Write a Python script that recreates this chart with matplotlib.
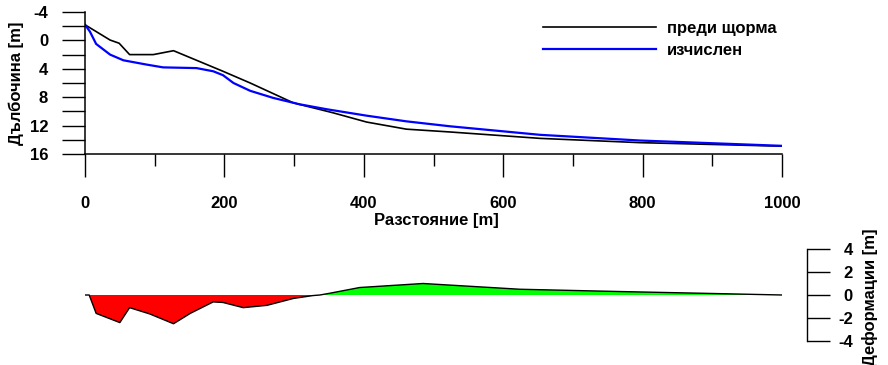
import matplotlib

matplotlib.use("Agg")
import matplotlib.pyplot as plt
import numpy as np
from matplotlib.ticker import MultipleLocator

# Профил на дъното преди щормa: разстояние [m] -> дълбочина [m]
DIST_BEFORE = [0, 36, 49, 64, 98, 127, 198, 237, 299, 356, 404, 461, 524, 653, 796, 1000]
DEPTH_BEFORE = [-2.2, -0.05, 0.4, 2.0, 2.0, 1.45, 4.35, 6.0, 8.8, 10.2, 11.5, 12.5, 12.9,
                13.8, 14.4, 14.9]

# Изчислен профил след щорма
DIST_CALC = [0, 7, 16, 36, 55, 88, 112, 160, 184, 198, 213, 237, 270, 308, 347, 404, 461,
             524, 653, 796, 1000]
DEPTH_CALC = [-2.2, -1.25, 0.5, 2.0, 2.8, 3.4, 3.8, 3.9, 4.35, 4.9, 6.0, 7.1, 8.1, 9.0,
              9.7, 10.6, 11.4, 12.1, 13.3, 14.1, 14.85]

# Деформации на дъното (+ отлагане, - ерозия)
DIST_DEF = [0, 6, 16, 50, 64, 93, 127, 151, 184, 198, 227, 261, 299, 327, 337, 351, 394,
            485, 624, 768, 886, 1000]
DEFORM = [0, 0, -1.6, -2.4, -1.1, -1.65, -2.5, -1.6, -0.6, -0.65, -1.1, -0.9, -0.3, -0.05,
          0, 0.15, 0.65, 1.0, 0.5, 0.3, 0.15, 0]

DEPTH_TICKS = [-4, 0, 4, 8, 12, 16]
DIST_TICKS = [0, 200, 400, 600, 800, 1000]
DEF_TICKS = [-4, -2, 0, 2, 4]

plt.rcParams["font.family"] = ["Liberation Sans", "DejaVu Sans"]
plt.rcParams["font.weight"] = "bold"
plt.rcParams["font.size"] = 12
plt.rcParams["axes.unicode_minus"] = False

W, H = 888, 365
fig = plt.figure(figsize=(W / 100, H / 100), dpi=100)


def box(x0, y0, x1, y1):
    """Правоъгълник в пиксели (от горния ляв ъгъл) -> координати на фигурата."""
    return [x0 / W, 1 - y1 / H, (x1 - x0) / W, (y1 - y0) / H]


# ── горна графика: профили ─────────────────────────────────────────
ax = fig.add_axes(box(85, 12, 782, 154))
ax.plot(DIST_BEFORE, DEPTH_BEFORE, color="black", lw=1.2, label="преди щорма")
ax.plot(DIST_CALC, DEPTH_CALC, color="#0000ff", lw=1.6, label="изчислен")
ax.set_xlim(0, 1000)
ax.set_ylim(16, -4)
ax.spines["top"].set_visible(False)
ax.spines["right"].set_visible(False)
for s in ("left", "bottom"):
    ax.spines[s].set_linewidth(1.1)
ax.set_yticks(DEPTH_TICKS)
ax.yaxis.set_minor_locator(MultipleLocator(2))
ax.set_xticks(DIST_TICKS)
ax.xaxis.set_minor_locator(MultipleLocator(100))
ax.tick_params(axis="y", which="both", direction="out", length=16.5, width=1, pad=10)
ax.tick_params(axis="x", which="major", direction="out", length=16.5, width=1, pad=14)
ax.tick_params(axis="x", which="minor", direction="out", length=8.5, width=1)

fig.text(16 / W, 1 - 83 / H, "Дълбочина [m]", rotation=90, ha="center", va="center")
fig.text(436 / W, 1 - 220 / H, "Разстояние [m]", ha="center", va="center")

ax.legend(loc="upper left", bbox_to_anchor=(543 / W, 1 - 21 / H),
          bbox_transform=fig.transFigure, frameon=False, handlelength=6.8,
          handletextpad=0.66, labelspacing=0.44, borderpad=0, borderaxespad=0)

# ── долна графика: деформации ──────────────────────────────────────
ax2 = fig.add_axes(box(85, 249, 782, 341))
d = np.array(DEFORM)
ax2.fill_between(DIST_DEF, d, 0, where=d <= 0, interpolate=True, color="#ff0000", lw=0)
ax2.fill_between(DIST_DEF, d, 0, where=d >= 0, interpolate=True, color="#00ff00", lw=0)
ax2.plot(DIST_DEF, DEFORM, color="black", lw=1)
ax2.set_xlim(0, 1000)
ax2.set_ylim(-4, 4)
for s in ("top", "left", "bottom"):
    ax2.spines[s].set_visible(False)
ax2.spines["right"].set_position(("outward", 18))
ax2.spines["right"].set_linewidth(1)
ax2.set_xticks([])
ax2.yaxis.tick_right()
ax2.set_yticks(DEF_TICKS)
ax2.tick_params(axis="y", direction="out", length=16.5, width=1, pad=16.5)
for lab in ax2.get_yticklabels():
    lab.set_horizontalalignment("right")

fig.text(870 / W, 1 - 297 / H, "Деформации [m]", rotation=90, ha="center", va="center")

fig.savefig("out.png", dpi=100)
